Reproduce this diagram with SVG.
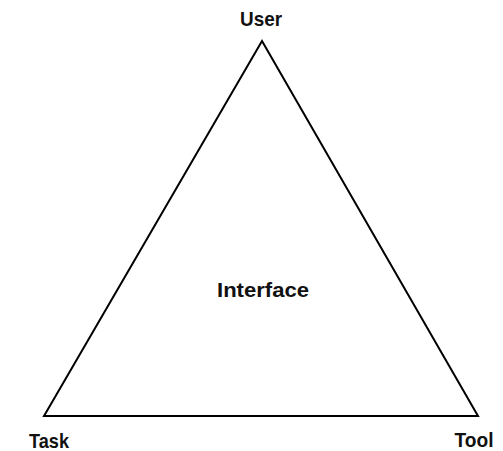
<svg xmlns="http://www.w3.org/2000/svg" width="503" height="451" viewBox="0 0 503 451">
<style>
.lbl{font-family:"Liberation Sans",Arial,sans-serif;font-weight:bold;font-size:21px;fill:#111;text-anchor:middle}
.edge{fill:none;stroke:#000;stroke-width:2;stroke-linejoin:miter}
</style>
<rect width="503" height="451" fill="#fff"/>
<g id="connectors">
<polygon class="edge" points="262,41 44,416 478,416"/>
</g>
<g id="user"><text class="lbl" x="261" y="26" textLength="42" lengthAdjust="spacingAndGlyphs">User</text></g>
<g id="task"><text class="lbl" x="49" y="448" textLength="40" lengthAdjust="spacingAndGlyphs">Task</text></g>
<g id="tool"><text class="lbl" x="474" y="447" textLength="39" lengthAdjust="spacingAndGlyphs">Tool</text></g>
<g id="interface"><text class="lbl" x="263" y="297" textLength="92" lengthAdjust="spacingAndGlyphs">Interface</text></g>
</svg>
